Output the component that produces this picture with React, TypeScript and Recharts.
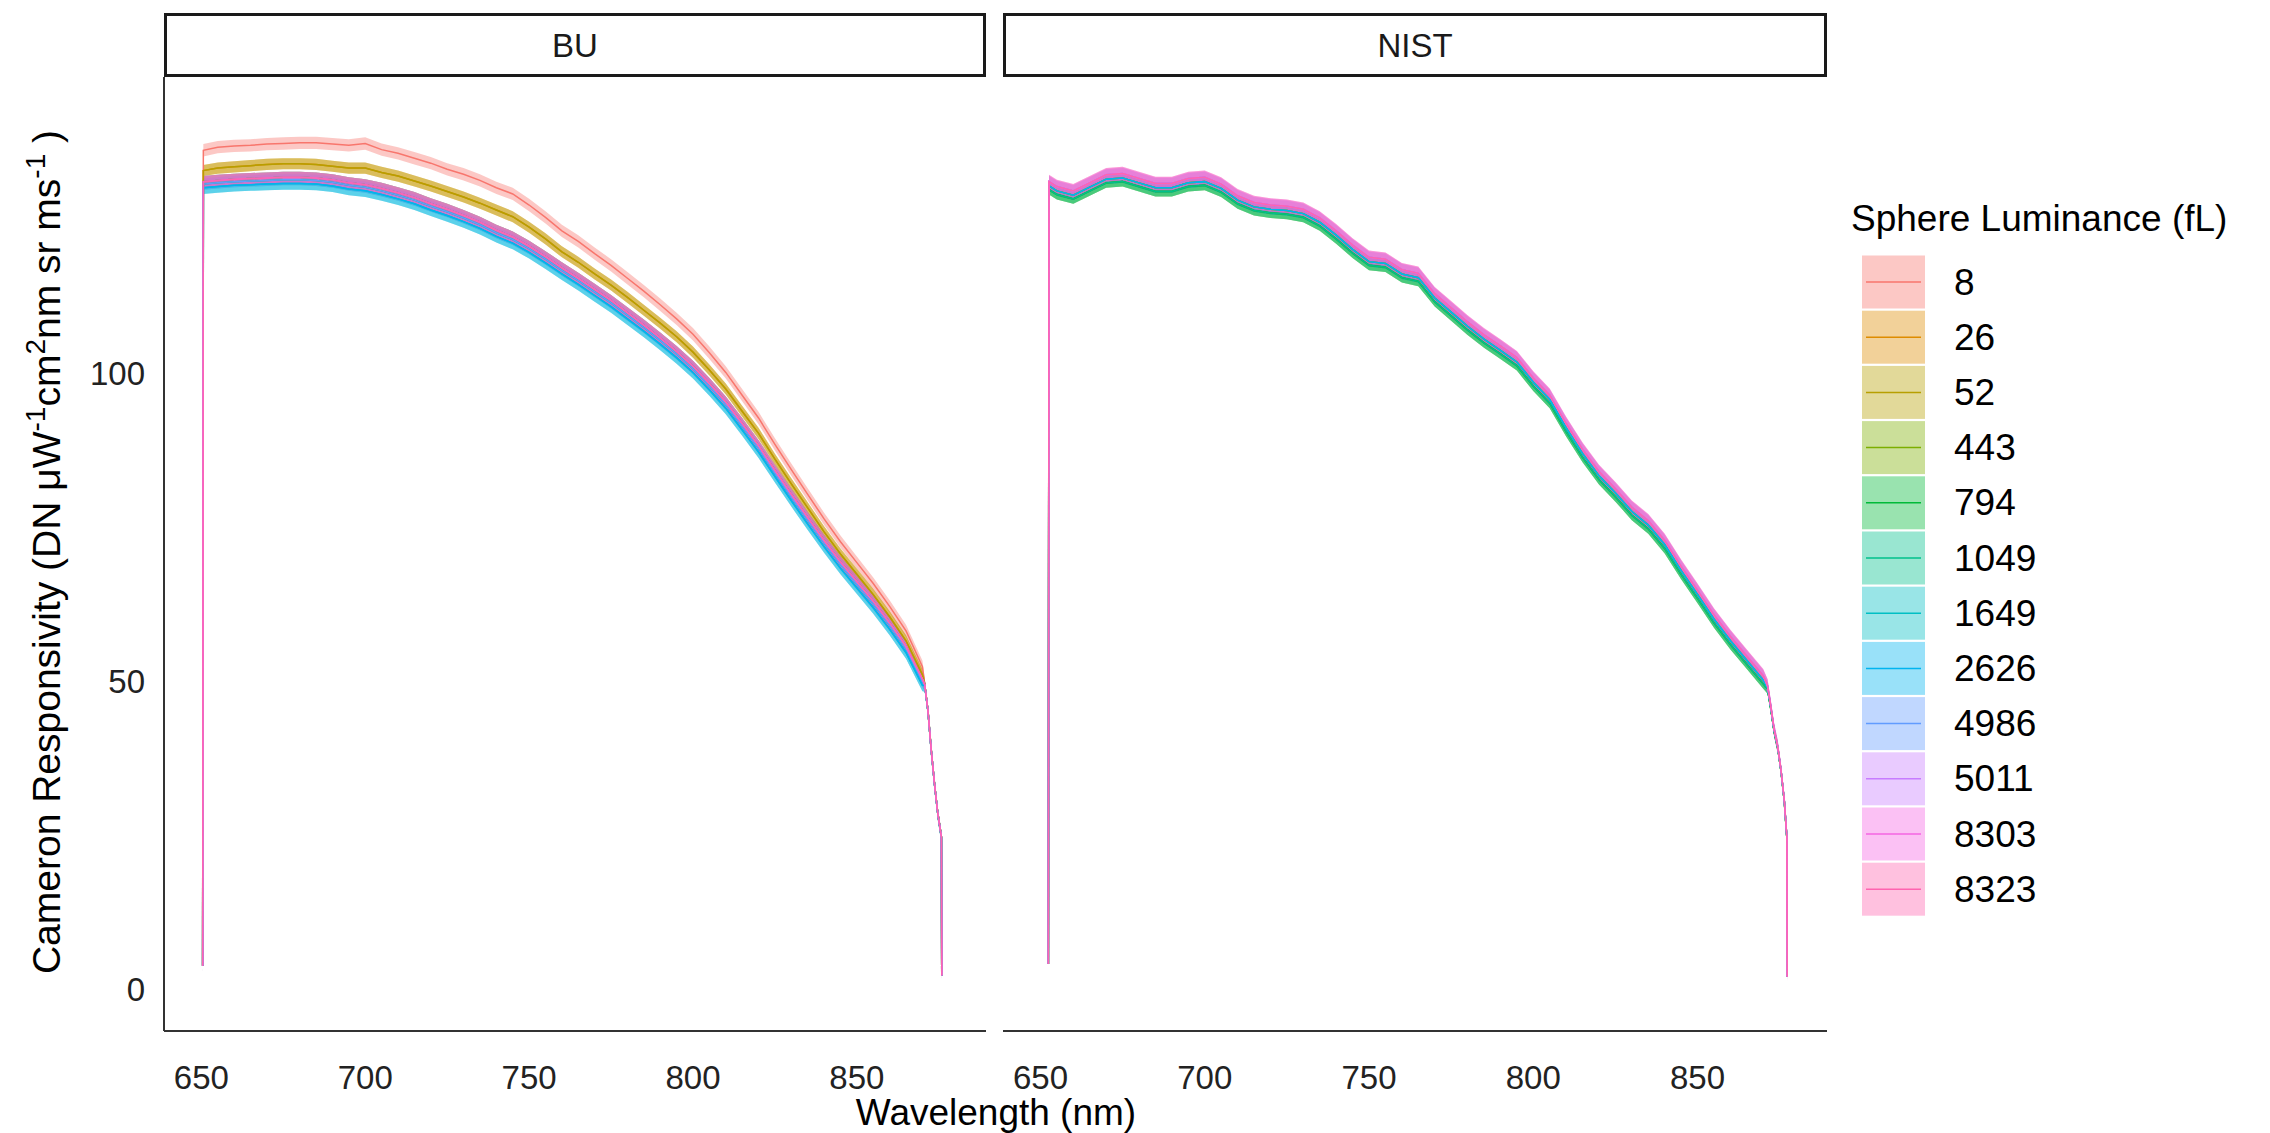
import { ComposedChart, Area, Line, XAxis, YAxis } from "recharts";

const FONT = "'Liberation Sans', Arial, sans-serif";

// ─── Data ─────────────────────────────────────────────────

const LUMINANCE = ["8", "26", "52", "443", "794", "1049", "1649", "2626", "4986", "5011", "8303", "8323"];
const COLORS = [
  "#F8766D", "#DE8C00", "#B79F00", "#7CAE00", "#00BA38", "#00C08B",
  "#00BFC4", "#00B4F0", "#619CFF", "#C77CFF", "#F564E3", "#FF64B0",
];

const X_TICKS = [650, 700, 750, 800, 850];
const Y_TICKS = [0, 50, 100];

// BU panel, wavelength grid (nm)
const BU_WAVELENGTH = [
  650.4, 650.6, 655, 660, 665, 670, 675, 680, 685, 690, 695, 700, 705, 710, 715, 720, 725, 730,
  735, 740, 745, 750, 755, 760, 765, 770, 775, 780, 785, 790, 795, 800, 805, 810, 815, 820, 825,
  830, 835, 840, 845, 850, 855, 860, 865, 870, 870.7, 871.7, 872.7, 873.7, 874.7, 875.8, 875.9,
];
const BU_8 = [
  3.8, 136.3, 136.8, 137.0, 137.1, 137.3, 137.4, 137.5, 137.5, 137.3, 137.1, 137.4, 136.4, 135.8,
  135.0, 134.2, 133.2, 132.4, 131.4, 130.2, 129.2, 127.4, 125.4, 123.2, 121.5, 119.5, 117.6, 115.5,
  113.4, 111.2, 108.9, 106.4, 103.4, 100.2, 96.5, 92.8, 88.5, 84.4, 80.4, 76.4, 72.7, 69.3, 65.9,
  62.2, 58.2, 52.4, 49.6, 45.2, 38.8, 33.3, 28.5, 24.7, 2.2,
];
const BU_52 = [
  3.8, 133.0, 133.4, 133.6, 133.8, 134.0, 134.1, 134.1, 134.0, 133.7, 133.4, 133.4, 132.7, 132.1,
  131.3, 130.5, 129.6, 128.7, 127.7, 126.6, 125.5, 123.8, 121.9, 119.8, 118.1, 116.2, 114.4, 112.4,
  110.3, 108.2, 106.0, 103.5, 100.6, 97.5, 93.9, 90.3, 86.1, 82.1, 78.2, 74.3, 70.7, 67.4, 64.1,
  60.5, 56.6, 51.1, 49.5, 45.2, 38.8, 33.3, 28.5, 24.7, 2.2,
];
const BU_TOP = [
  3.8, 131.2, 131.4, 131.6, 131.7, 131.8, 131.9, 131.9, 131.8, 131.5, 131.0, 130.7, 130.1, 129.4,
  128.6, 127.6, 126.7, 125.7, 124.6, 123.3, 122.2, 120.7, 119.0, 117.2, 115.5, 113.7, 111.9, 109.9,
  107.9, 105.8, 103.6, 101.2, 98.4, 95.4, 91.9, 88.3, 84.3, 80.4, 76.6, 72.9, 69.4, 66.2, 63.0,
  59.5, 55.7, 50.4, 49.5, 45.2, 38.8, 33.3, 28.5, 24.7, 2.2,
];
const BU_MID = [
  3.8, 130.8, 131.0, 131.2, 131.3, 131.4, 131.5, 131.5, 131.4, 131.1, 130.6, 130.3, 129.7, 129.0,
  128.2, 127.2, 126.3, 125.3, 124.2, 122.9, 121.8, 120.3, 118.6, 116.8, 115.1, 113.3, 111.5, 109.5,
  107.5, 105.4, 103.2, 100.8, 98.0, 95.0, 91.5, 87.9, 83.9, 80.0, 76.2, 72.5, 69.0, 65.8, 62.6,
  59.1, 55.3, 50.0, 49.4, 45.2, 38.8, 33.3, 28.5, 24.7, 2.2,
];
const BU_LOW = [
  3.8, 130.2, 130.4, 130.6, 130.7, 130.8, 130.9, 130.9, 130.8, 130.5, 130.0, 129.7, 129.1, 128.4,
  127.6, 126.6, 125.7, 124.7, 123.6, 122.3, 121.2, 119.7, 118.0, 116.2, 114.5, 112.7, 110.9, 108.9,
  106.9, 104.8, 102.6, 100.2, 97.4, 94.4, 90.9, 87.3, 83.3, 79.4, 75.6, 71.9, 68.4, 65.2, 62.0,
  58.5, 54.7, 49.4, 49.3, 45.1, 38.7, 33.2, 28.4, 24.6, 2.2,
];

// NIST panel, wavelength grid (nm)
const NIST_WAVELENGTH = [
  652.4, 652.6, 655, 660, 665, 670, 675, 680, 685, 690, 695, 700, 705, 710, 715, 720, 725, 730,
  735, 740, 745, 750, 755, 760, 765, 770, 775, 780, 785, 790, 795, 800, 805, 810, 815, 820, 825,
  830, 835, 840, 845, 850, 855, 860, 865, 870, 871.3, 872.3, 873.3, 874.4, 875.4, 876.4, 877.2,
  877.3,
];
const NIST_TOP = [
  4.1, 131.2, 130.4, 129.7, 131.0, 132.3, 132.5, 131.7, 130.9, 130.9, 131.7, 131.9, 130.8, 128.9,
  127.8, 127.4, 127.2, 126.7, 125.3, 123.2, 120.9, 118.9, 118.6, 116.9, 116.3, 113.0, 110.7, 108.4,
  106.3, 104.5, 102.6, 99.3, 96.5, 91.9, 87.7, 84.1, 81.3, 78.3, 76.1, 72.9, 68.7, 64.8, 60.8, 57.3,
  54.1, 50.9, 49.3, 45.9, 42.2, 39.4, 35.6, 30.7, 24.6, 2.0,
];
const NIST_MID = [
  4.1, 130.5, 129.7, 129.0, 130.3, 131.6, 131.8, 131.0, 130.2, 130.2, 131.0, 131.2, 130.1, 128.2,
  127.1, 126.7, 126.5, 126.0, 124.6, 122.5, 120.2, 118.2, 117.9, 116.2, 115.6, 112.3, 110.0, 107.7,
  105.6, 103.8, 101.9, 98.6, 95.8, 91.2, 87.0, 83.4, 80.6, 77.6, 75.4, 72.2, 68.0, 64.1, 60.1, 56.6,
  53.4, 50.2, 49.0, 45.7, 42.0, 39.3, 35.5, 30.6, 24.5, 2.0,
];
const NIST_LOW = [
  4.1, 129.9, 129.1, 128.4, 129.7, 131.0, 131.2, 130.4, 129.6, 129.6, 130.4, 130.6, 129.5, 127.6,
  126.5, 126.1, 125.9, 125.4, 124.0, 121.9, 119.6, 117.6, 117.3, 115.6, 115.0, 111.7, 109.4, 107.1,
  105.0, 103.2, 101.3, 98.0, 95.2, 90.6, 86.4, 82.8, 80.0, 77.0, 74.8, 71.6, 67.4, 63.5, 59.5, 56.0,
  52.8, 49.6, 48.8, 45.5, 41.9, 39.2, 35.4, 30.5, 24.4, 2.0,
];

// which curve each luminance level follows (they overlap in the picture)
const BU_CURVES = [BU_8, BU_52, BU_52, BU_TOP, BU_TOP, BU_MID, BU_LOW, BU_LOW, BU_MID, BU_TOP, BU_TOP, BU_TOP];
const NIST_CURVES = [NIST_MID, NIST_MID, NIST_MID, NIST_LOW, NIST_LOW, NIST_LOW, NIST_MID, NIST_MID, NIST_TOP, NIST_TOP, NIST_TOP, NIST_TOP];

// ribbon half-widths
const BU_SE = [1.0, 0.9, 0.9, 0.9, 0.9, 0.9, 1.0, 1.0, 0.9, 0.9, 0.9, 0.9];
const NIST_SE = [0.8, 0.8, 0.8, 0.8, 0.8, 0.8, 0.8, 0.8, 0.9, 1.0, 1.1, 1.1];

// ─── Helpers ──────────────────────────────────────────────

function buildRows(wl: number[], curves: number[][], se: number[]) {
  return wl.map((x, j) => {
    const row: Record<string, any> = { x };
    curves.forEach((c, i) => {
      row[`s${i}`] = c[j];
      row[`r${i}`] = [c[j] - se[i], c[j] + se[i]];
    });
    return row;
  });
}

const X_DOMAIN: [number, number] = [638.6, 889.4];
const Y_DOMAIN: [number, number] = [-6.8, 148.2];
const TICK_STYLE = { fontSize: 33, fill: "#222", fontFamily: FONT };

function Panel({ rows, width, showY }: { rows: any[]; width: number; showY: boolean }) {
  return (
    <ComposedChart
      width={width}
      height={1133}
      data={rows}
      margin={{ top: 77, right: showY ? 14 : 0, bottom: 52, left: 0 }}
    >
      <XAxis
        type="number"
        dataKey="x"
        domain={X_DOMAIN}
        ticks={X_TICKS}
        height={50}
        tickLine={false}
        tickMargin={29}
        axisLine={{ stroke: "#333", strokeWidth: 2 }}
        tick={TICK_STYLE}
      />
      <YAxis
        type="number"
        domain={Y_DOMAIN}
        ticks={Y_TICKS}
        width={164}
        hide={!showY}
        tickLine={false}
        tickMargin={13}
        axisLine={{ stroke: "#333", strokeWidth: 2 }}
        tick={TICK_STYLE}
      />
      {LUMINANCE.map((_, i) => (
        <Area
          key={`r${i}`}
          type="linear"
          dataKey={`r${i}`}
          fill={COLORS[i]}
          fillOpacity={0.4}
          stroke="none"
          dot={false}
          activeDot={false}
          isAnimationActive={false}
        />
      ))}
      {LUMINANCE.map((_, i) => (
        <Line
          key={`s${i}`}
          type="linear"
          dataKey={`s${i}`}
          stroke={COLORS[i]}
          strokeWidth={1.5}
          dot={false}
          activeDot={false}
          isAnimationActive={false}
        />
      ))}
    </ComposedChart>
  );
}

export default function App() {
  const buRows = buildRows(BU_WAVELENGTH, BU_CURVES, BU_SE);
  const nistRows = buildRows(NIST_WAVELENGTH, NIST_CURVES, NIST_SE);

  return (
    <div
      style={{
        position: "absolute",
        left: 0,
        top: 0,
        width: 2270,
        height: 1133,
        background: "#fff",
        fontFamily: FONT,
        overflow: "hidden",
      }}
    >
      <div style={{ position: "absolute", left: 0, top: 0 }}>
        <Panel rows={buRows} width={1000} showY />
      </div>
      <div style={{ position: "absolute", left: 1003, top: 0 }}>
        <Panel rows={nistRows} width={824} showY={false} />
      </div>

      <svg
        width={2270}
        height={1133}
        style={{ position: "absolute", left: 0, top: 0, pointerEvents: "none" }}
        fontFamily={FONT}
      >
        {/* facet strips */}
        <rect x={165.5} y={14.5} width={819} height={61} fill="#fff" stroke="#1a1a1a" strokeWidth={3} />
        <text x={575} y={45} fontSize={33} textAnchor="middle" dominantBaseline="central" fill="#1a1a1a">
          BU
        </text>
        <rect x={1004.5} y={14.5} width={821} height={61} fill="#fff" stroke="#1a1a1a" strokeWidth={3} />
        <text x={1415} y={45} fontSize={33} textAnchor="middle" dominantBaseline="central" fill="#1a1a1a">
          NIST
        </text>

        {/* axis titles */}
        <text x={996} y={1125} fontSize={37} textAnchor="middle" fill="#000">
          Wavelength (nm)
        </text>
        <text x={60} y={552} fontSize={39} textAnchor="middle" fill="#000" transform="rotate(-90 60 552)">
          {"Cameron Responsivity (DN μW"}
          <tspan dy={-15} fontSize={28}>{"-1"}</tspan>
          <tspan dy={15}>{"cm"}</tspan>
          <tspan dy={-15} fontSize={28}>{"2"}</tspan>
          <tspan dy={15}>{"nm sr ms"}</tspan>
          <tspan dy={-15} fontSize={28}>{"-1"}</tspan>
          <tspan dy={15}>{" )"}</tspan>
        </text>

        {/* legend */}
        <text x={1851} y={231} fontSize={37} fill="#000">
          Sphere Luminance (fL)
        </text>
        {LUMINANCE.map((lab, i) => {
          const cy = 282 + i * 55.2;
          return (
            <g key={lab}>
              <rect x={1862} y={cy - 26.5} width={63} height={53} fill={COLORS[i]} fillOpacity={0.4} />
              <line x1={1866} x2={1921} y1={cy} y2={cy} stroke={COLORS[i]} strokeWidth={1.5} />
              <text x={1954} y={cy} fontSize={37} dominantBaseline="central" fill="#000">
                {lab}
              </text>
            </g>
          );
        })}
      </svg>
    </div>
  );
}
